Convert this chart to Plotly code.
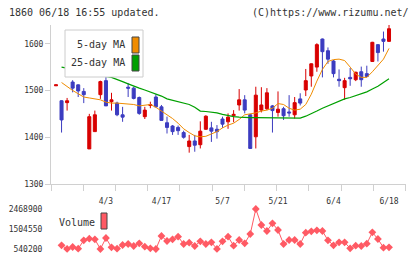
import numpy as np
import plotly.graph_objects as go

# ---------------- data ----------------
dates = ["3/21","3/22","3/25","3/26","3/27","3/28","3/29","4/1","4/2","4/3",
         "4/4","4/5","4/8","4/9","4/10","4/11","4/12","4/15","4/16","4/17",
         "4/18","4/19","4/22","4/23","4/24","4/25","4/26","4/30","5/1","5/2",
         "5/7","5/8","5/9","5/10","5/13","5/14","5/15","5/16","5/17","5/20",
         "5/21","5/22","5/23","5/24","5/27","5/28","5/29","5/30","5/31","6/3",
         "6/4","6/5","6/6","6/7","6/10","6/11","6/12","6/13","6/14","6/17","6/18"]

opens = [1510,1478,1474,1518,1512,1498,1375,1412,1491,1521,
         1476,1473,1448,1507,1505,1485,1444,1468,1486,1465,
         1431,1424,1421,1410,1380,1392,1384,1417,1420,1417,
         1439,1433,1446,1469,1480,1448,1401,1458,1461,1467,
         1453,1461,1454,1448,1482,1501,1531,1550,1610,1585,
         1563,1524,1506,1528,1523,1540,1536,1562,1598,1610,1605]
highs = [1512,1479,1484,1522,1513,1505,1450,1457,1521,1538,
         1495,1476,1465,1516,1508,1487,1465,1476,1492,1469,
         1444,1426,1425,1414,1405,1405,1434,1447,1433,1426,
         1444,1451,1458,1503,1490,1450,1508,1507,1505,1469,
         1498,1465,1490,1486,1494,1546,1558,1601,1611,1592,
         1565,1545,1527,1548,1540,1551,1553,1604,1599,1626,1640]
lows = [1510,1410,1457,1496,1486,1473,1375,1412,1482,1467,
        1457,1445,1433,1486,1481,1448,1439,1462,1464,1436,
        1408,1405,1405,1397,1367,1369,1376,1416,1390,1397,
        1420,1418,1432,1457,1451,1375,1376,1453,1458,1410,
        1444,1437,1444,1440,1468,1488,1508,1540,1528,1557,
        1528,1508,1480,1510,1520,1508,1528,1561,1562,1583,1604]
closes = [1512,1437,1478,1505,1499,1491,1444,1448,1519,1467,
          1480,1448,1443,1505,1483,1451,1458,1470,1465,1436,
          1421,1412,1414,1400,1392,1383,1413,1445,1413,1412,
          1428,1443,1449,1480,1458,1376,1490,1469,1495,1457,
          1460,1446,1452,1474,1473,1521,1557,1598,1583,1567,
          1536,1521,1521,1525,1539,1523,1530,1603,1581,1605,1632]

ma5 = [None,1517,1508,1500,1493,1486,1484,1482,1480,1475,
       1473,1473,1472,1470,1470,1467,1468,1470,1464,1456,
       1449,1440,1430,1418,1410,1403,1401,1402,1407,1412,
       1420,1426,1430,1438,1448,1450,1452,1456,1458,1462,
       1472,1470,1462,1458,1460,1470,1492,1520,1545,1562,
       1566,1567,1564,1550,1535,1528,1528,1540,1553,1567,1590]
ma25 = [None,1550,1548,1546,1543,1541,1538,1535,1533,1530,
        1528,1524,1519,1514,1509,1505,1501,1497,1493,1488,
        1482,1479,1476,1474,1470,1464,1456,1455,1454,1452,
        1449,1446,1444,1443,1442,1442,1442,1442,1442,1441,
        1441,1441,1441,1441,1441,1445,1450,1456,1462,1467,
        1472,1478,1482,1485,1489,1493,1497,1503,1509,1517,1525]

volume = [None,717000,545000,636600,556300,958100,1038400,1006300,540200,1070600,
          620600,556300,733100,781300,684900,813400,652700,572300,540200,1167000,
          926000,1006300,1134900,781300,845600,684900,909900,781300,861600,545000,
          909900,1134900,700900,974100,813400,1263400,2468900,1697400,1408100,1777700,
          1456300,781300,974100,974100,781300,1327700,1392000,1440200,1408100,958100,
          717000,861600,861600,572300,700900,684900,797400,1343800,1022400,604500,620600]

label_dates = ["4/3", "4/17", "5/7", "5/21", "6/4", "6/18"]
price_ticks = [1300, 1400, 1500, 1600]
vol_ticks = [540200, 1504550, 2468900]

# ---------------- style ----------------
W, H = 420, 259
RED = "#d80000"
BLUE = "#3c3cc0"
ORANGE = "#f08c00"
GREEN = "#00a000"
VOLC = "#ff5a64"
AXC = "#d0d0d0"
TXT = "#333333"
FONT = "DejaVu Sans Mono"

def px(x):
    return x / W

def py(y):
    return 1 - y / H

xs = list(range(len(dates)))
xr = [-0.9, 62.97]

fig = go.Figure()
fig.add_trace(go.Candlestick(
    x=xs, open=opens, high=highs, low=lows, close=closes,
    increasing=dict(line=dict(color=RED, width=1), fillcolor=RED),
    decreasing=dict(line=dict(color=BLUE, width=1), fillcolor=BLUE),
    whiskerwidth=0, showlegend=False, xaxis="x", yaxis="y"))
fig.add_trace(go.Scatter(x=xs, y=ma5, mode="lines", line=dict(color=ORANGE, width=1),
                         showlegend=False, xaxis="x", yaxis="y"))
fig.add_trace(go.Scatter(x=xs, y=ma25, mode="lines", line=dict(color=GREEN, width=1.2),
                         showlegend=False, xaxis="x", yaxis="y"))
fig.add_trace(go.Scatter(x=xs, y=volume, mode="lines+markers",
                         line=dict(color=VOLC, width=1),
                         marker=dict(symbol="diamond", size=6, color=VOLC),
                         connectgaps=False, showlegend=False, xaxis="x2", yaxis="y2"))

tickpos = [dates.index(d) for d in label_dates]
fig.update_layout(
    width=W, height=H, margin=dict(l=0, r=0, t=0, b=0),
    paper_bgcolor="white", plot_bgcolor="white",
    boxgap=0.22,
    font=dict(family=FONT, size=8, color=TXT),
    xaxis=dict(domain=[px(51), px(405.5)], range=xr, anchor="y",
               showline=True, linecolor=AXC, linewidth=1,
               tickvals=tickpos, ticktext=label_dates,
               ticks="outside", ticklen=9, tickcolor="rgba(0,0,0,0)",
               tickfont=dict(size=8, color=TXT, family=FONT),
               showgrid=False, zeroline=False, automargin=False,
               rangeslider=dict(visible=False),
               minor=dict(tickvals=list(np.linspace(xr[0], xr[1], 12)), ticks="outside",
                          ticklen=6, tickcolor=AXC, showgrid=False)),
    yaxis=dict(domain=[py(184), py(25)], range=[1300, 1640], anchor="x",
               tickvals=price_ticks, ticks="outside", ticklen=5, tickcolor=AXC,
               showline=True, linecolor=AXC, linewidth=1,
               tickfont=dict(size=8, color=TXT, family=FONT),
               showgrid=False, zeroline=False, automargin=False),
    xaxis2=dict(domain=[px(51), px(405.5)], range=xr, anchor="y2", visible=False),
    yaxis2=dict(domain=[py(255), py(205)], range=[250898, 2661748], anchor="x2",
                tickvals=vol_ticks, tickformat="d",
                ticks="outside", ticklen=6, tickcolor="rgba(0,0,0,0)",
                showline=False, showgrid=False, zeroline=False, automargin=False,
                tickfont=dict(size=8, color=TXT, family=FONT)),
)

shapes = [
    dict(type="rect", xref="paper", yref="paper", x0=px(65), x1=px(143), y0=py(77), y1=py(30),
         line=dict(color="#cccccc", width=1), fillcolor="white", layer="above"),
    dict(type="rect", xref="paper", yref="paper", x0=px(132), x1=px(139), y0=py(53), y1=py(37),
         line=dict(color="#444444", width=1), fillcolor=ORANGE, layer="above"),
    dict(type="rect", xref="paper", yref="paper", x0=px(132), x1=px(139), y0=py(71), y1=py(55),
         line=dict(color="#444444", width=1), fillcolor=GREEN, layer="above"),
    dict(type="rect", xref="paper", yref="paper", x0=px(101), x1=px(107), y0=py(229), y1=py(213),
         line=dict(color="#444444", width=1), fillcolor=VOLC, layer="above"),
]
fig.update_layout(shapes=shapes)

def ann(text, x, y, xanchor, size=10):
    fig.add_annotation(text=text, xref="paper", yref="paper", x=px(x), y=py(y),
                       xanchor=xanchor, yanchor="middle", showarrow=False,
                       font=dict(family=FONT, size=size, color=TXT))

ann("1860 06/18 16:55 updated.", 7, 12, "left")
ann("(C)https://www.rizumu.net/", 411, 12, "right")
ann("5-day MA", 127, 45, "right")
ann("25-day MA", 127, 63, "right")
ann("Volume", 57, 222, "left")

fig.write_html("out.html")
